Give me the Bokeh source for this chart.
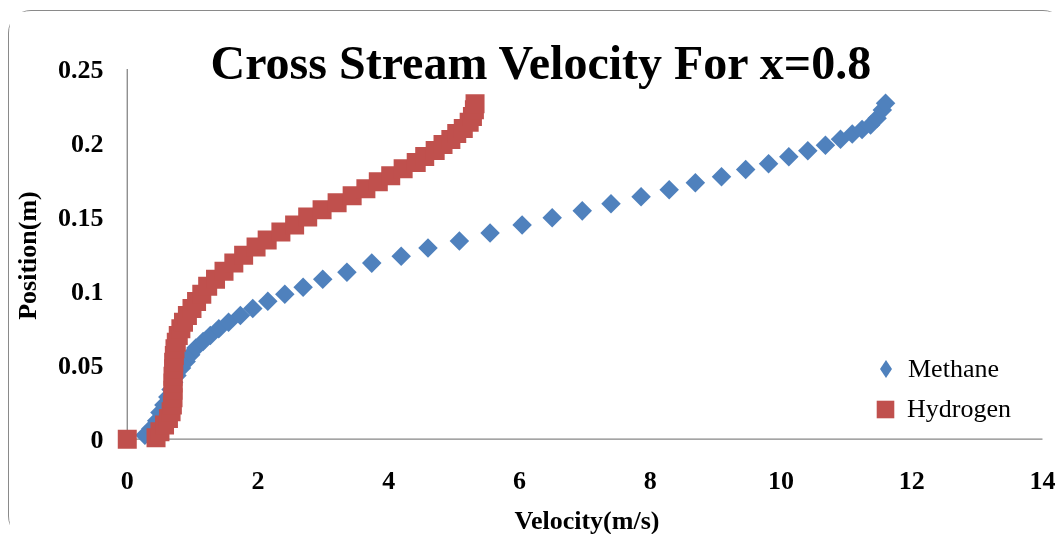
import math
from bokeh.plotting import figure
from bokeh.models import FixedTicker, Legend, LegendItem
from bokeh.embed import file_html
from bokeh.resources import INLINE

# ---------------- data ----------------
methane_velocity = [0.27, 0.36, 0.45, 0.50, 0.56, 0.62, 0.67, 0.71, 0.76, 0.83,
                    0.90, 0.97, 1.05, 1.16, 1.27, 1.40, 1.55, 1.73, 1.92, 2.15,
                    2.41, 2.69, 2.99, 3.36, 3.74, 4.19, 4.60, 5.08, 5.55, 6.04,
                    6.50, 6.96, 7.40, 7.86, 8.29, 8.69, 9.09, 9.46, 9.81, 10.12,
                    10.41, 10.68, 10.91, 11.09, 11.24, 11.37, 11.47, 11.55, 11.60]
methane_position = [0.0027, 0.0070, 0.0125, 0.0180, 0.0230, 0.0285, 0.0335, 0.0385, 0.0430, 0.0480,
                    0.0525, 0.0570, 0.0615, 0.0660, 0.0700, 0.0745, 0.0790, 0.0835, 0.0883, 0.0931,
                    0.0978, 0.1026, 0.1080, 0.1128, 0.1189, 0.1236, 0.1291, 0.1338, 0.1393, 0.1447,
                    0.1495, 0.1542, 0.1590, 0.1637, 0.1685, 0.1732, 0.1773, 0.1821, 0.1861, 0.1907,
                    0.1948, 0.1986, 0.2026, 0.2061, 0.2092, 0.2122, 0.2167, 0.2224, 0.2269]

hydrogen_velocity = [0.0, 0.44, 0.50, 0.57, 0.63, 0.67, 0.69, 0.70, 0.70, 0.70,
                     0.70, 0.71, 0.71, 0.72, 0.73, 0.75, 0.78, 0.82, 0.86, 0.92,
                     0.99, 1.06, 1.14, 1.23, 1.35, 1.48, 1.63, 1.78, 1.97, 2.14,
                     2.35, 2.56, 2.76, 2.98, 3.21, 3.44, 3.65, 3.84, 4.03, 4.22,
                     4.42, 4.55, 4.71, 4.83, 4.95, 5.04, 5.14, 5.23, 5.28, 5.31, 5.32]
hydrogen_position = [0.0, 0.0010, 0.0050, 0.0095, 0.0140, 0.0185, 0.0230, 0.0280, 0.0330, 0.0380,
                     0.0425, 0.0475, 0.0520, 0.0565, 0.0610, 0.0655, 0.0700, 0.0745, 0.0790, 0.0836,
                     0.0883, 0.0930, 0.0978, 0.1032, 0.1080, 0.1134, 0.1189, 0.1243, 0.1298, 0.1345,
                     0.1399, 0.1447, 0.1501, 0.1549, 0.1596, 0.1644, 0.1692, 0.1739, 0.1780, 0.1827,
                     0.1868, 0.1909, 0.1950, 0.1990, 0.2024, 0.2065, 0.2099, 0.2140, 0.2180, 0.2225, 0.2265]

series_names = ["Methane", "Hydrogen"]
x_ticks = [0, 2, 4, 6, 8, 10, 12, 14]
y_ticks = [0, 0.05, 0.1, 0.15, 0.2, 0.25]
y_tick_labels = ["0", "0.05", "0.1", "0.15", "0.2", "0.25"]

TITLE = "Cross Stream Velocity For x=0.8"
X_LABEL = "Velocity(m/s)"
Y_LABEL = "Position(m)"

# ---------------- styling ----------------
FONT = "Liberation Serif"
BLUE = "#4F81BD"
RED = "#C0504D"
AXIS_GREY = "#868686"

p = figure(width=1056, height=527, title=TITLE,
           x_range=(-0.18, 14.245), y_range=(-0.007, 0.2551),
           output_backend="svg", toolbar_location=None,
           min_border_left=106, min_border_right=7,
           min_border_top=50, min_border_bottom=89)
p.outline_line_color = None
p.xgrid.visible = False
p.ygrid.visible = False
p.styles = {"position": "fixed", "left": "9px", "top": "11px",
            "width": "1056px", "height": "527px",
            "outline": "1.5px solid #8a8a8a", "border-radius": "22px"}

# title overlapping the top of the plot area, as in the original
p.title.align = "left"
p.title.offset = 95
p.title.vertical_align = "bottom"
p.title.standoff = -55
p.title.text_font = FONT
p.title.text_font_style = "bold"
p.title.text_font_size = "48px"
p.title.text_color = "black"

# axis lines from the origin to the last tick
X_MAX = x_ticks[-1]
Y_MAX = y_ticks[-1]
p.segment(x0=[0, 0], y0=[0, 0], x1=[0, X_MAX], y1=[Y_MAX, 0],
          line_color=AXIS_GREY, line_width=1.3)

r_m = p.scatter(methane_velocity, methane_position, marker="square",
                angle=math.pi / 4, size=13.8, fill_color=BLUE, line_color=None)
r_h = p.scatter(hydrogen_velocity, hydrogen_position, marker="square",
                size=19, fill_color=RED, line_color=None)
# legend-only glyph for the methane diamond (legend markers are drawn upright)
r_m_key = p.scatter(x=[float("nan")], y=[float("nan")], marker="diamond",
                    fill_color=BLUE, line_color=None)

for ax in (p.xaxis[0], p.yaxis[0]):
    ax.axis_line_color = None
    ax.major_tick_line_color = None
    ax.minor_tick_line_color = None
    ax.major_label_text_font = FONT
    ax.major_label_text_font_style = "bold"
    ax.major_label_text_font_size = "26px"
    ax.major_label_text_color = "black"
    ax.axis_label_text_font = FONT
    ax.axis_label_text_font_style = "bold"
    ax.axis_label_text_font_size = "26px"
    ax.axis_label_text_color = "black"

p.xaxis.ticker = FixedTicker(ticks=x_ticks)
p.yaxis.ticker = FixedTicker(ticks=y_ticks)
p.yaxis.major_label_overrides = {t: l for t, l in zip(y_ticks, y_tick_labels)}
p.xaxis.axis_label = X_LABEL
p.yaxis.axis_label = Y_LABEL
p.xaxis.major_label_standoff = 16
p.yaxis.major_label_standoff = 6
p.xaxis.axis_label_standoff = 14
p.yaxis.axis_label_standoff = 13

legend_style = dict(padding=0, margin=0, spacing=0, label_standoff=0,
                    border_line_color=None, background_fill_alpha=0,
                    label_text_font=FONT, label_text_font_size="26px",
                    label_text_color="black")
leg_m = Legend(items=[LegendItem(label=series_names[0], renderers=[r_m_key])],
               location=(748, 58), glyph_width=45, glyph_height=45, **legend_style)
leg_h = Legend(items=[LegendItem(label=series_names[1], renderers=[r_h])],
               location=(748, 18), glyph_width=44, glyph_height=44, **legend_style)
p.add_layout(leg_m)
p.add_layout(leg_h)

open("out.html", "w").write(file_html(p, INLINE))
